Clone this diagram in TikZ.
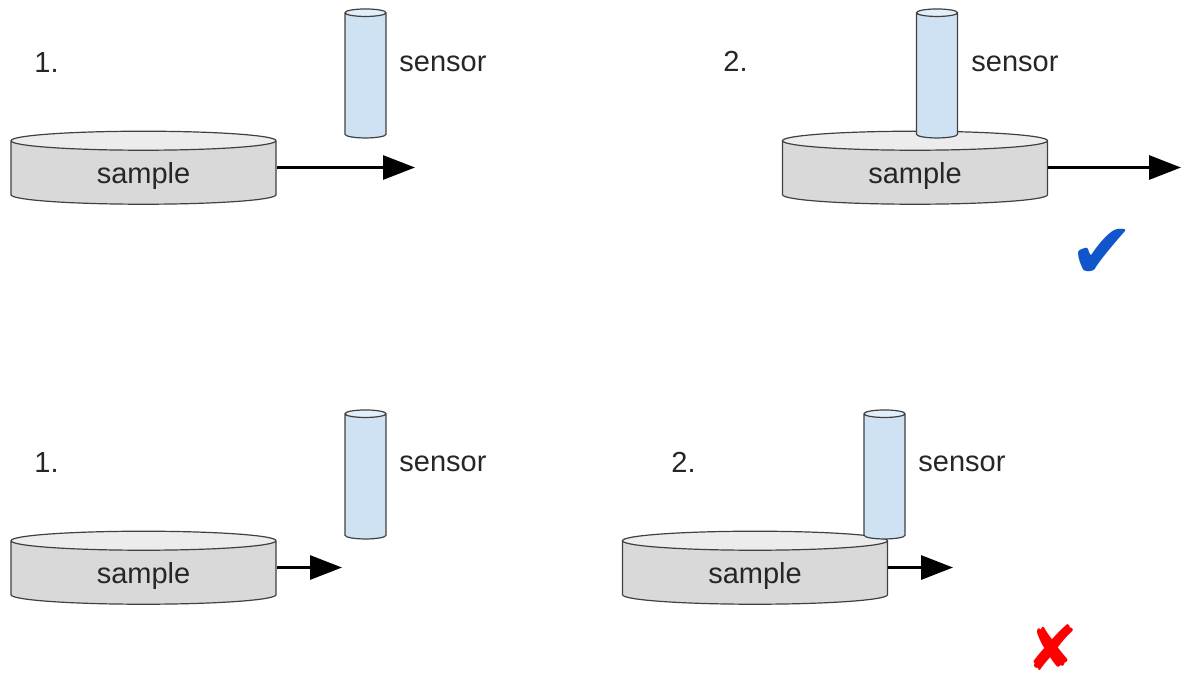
\documentclass[tikz,border=0pt]{standalone}
\usepackage{fontspec}
\setmainfont{Liberation Sans}
\newfontfamily\symfont{DejaVu Sans}
\usetikzlibrary{shapes.geometric,arrows.meta,positioning}
\definecolor{sensorblue}{HTML}{CFE2F3}
\definecolor{samplegray}{HTML}{D9D9D9}
\definecolor{sampletop}{HTML}{ECECEC}
\definecolor{tickblue}{HTML}{1155CC}
\definecolor{crossred}{HTML}{FF0000}

\begin{document}
\begin{tikzpicture}[x=0.5pt,y=-0.5pt]
            \tikzstyle{samplecyl}=[cylinder,shape border rotate=90,draw=black!75,line width=0.6pt,
            cylinder uses custom fill,cylinder body fill=samplegray,cylinder end fill=sampletop,
            minimum width=132.5pt,minimum height=36.5pt,aspect=0.0717,inner xsep=66.25pt,inner ysep=0pt]
            \tikzstyle{sensorcyl}=[cylinder,shape border rotate=90,draw=black!75,line width=0.6pt,
            cylinder uses custom fill,cylinder body fill=sensorblue,cylinder end fill=sensorblue!60!white,
            minimum width=20.5pt,minimum height=64.5pt,aspect=0.183,inner xsep=10.25pt,inner ysep=0pt]
            \tikzstyle{lbl}=[anchor=base west,inner sep=0pt,text=black!85,font=\fontsize{14.5}{17}\selectfont]
            \tikzstyle{move}=[-{Triangle[length=16pt,width=12pt]},line width=1.5pt]

            \useasboundingbox (0,0) rectangle (1181,677);

            % 1. (top)
            \node [samplecyl] (smpA) at (143.5,177.5) {};
            \node [lbl,anchor=base] (nameA) at (143.5,183) {sample};
            \node [sensorcyl] (senA) at (365.5,77.5) {};
            \node [lbl] (numA) at (34,72) {1.};
            \node [lbl] (txtA) at (399,71) {sensor};
            \coordinate (endA) at (415,167.5);
            \draw [move] (smpA.east |- endA) -- (endA);

            % 2. (top)
            \node [samplecyl] (smpB) at (915,177.5) {};
            \node [lbl,anchor=base] (nameB) at (915,183) {sample};
            \node [sensorcyl] (senB) at (937,77.5) {};
            \node [lbl] (numB) at (723,71) {2.};
            \node [lbl] (txtB) at (971,71) {sensor};
            \coordinate (endB) at (1181,167.5);
            \draw [move] (smpB.east |- endB) -- (endB);
            \node [text=tickblue,font=\symfont\fontsize{39}{42}\selectfont,inner sep=0pt] (tick) at (1102,254) {✔};

            % 1. (bottom)
            \node [samplecyl] (smpC) at (143.5,577.5) {};
            \node [lbl,anchor=base] (nameC) at (143.5,583) {sample};
            \node [sensorcyl] (senC) at (365.5,478.5) {};
            \node [lbl] (numC) at (34,472) {1.};
            \node [lbl] (txtC) at (399,471) {sensor};
            \coordinate (endC) at (342,567.5);
            \draw [move] (smpC.east |- endC) -- (endC);

            % 2. (bottom)
            \node [samplecyl] (smpD) at (755,577.5) {};
            \node [lbl,anchor=base] (nameD) at (755,583) {sample};
            \node [sensorcyl] (senD) at (884.5,478.5) {};
            \node [lbl] (numD) at (671,472) {2.};
            \node [lbl] (txtD) at (918,471) {sensor};
            \coordinate (endD) at (953,567.5);
            \draw [move] (smpD.east |- endD) -- (endD);
            \node [text=crossred,font=\symfont\fontsize{31}{34}\selectfont,inner sep=0pt,
            text depth=0pt,anchor=base] (cross) at (1052,670) {✘};
\end{tikzpicture}
\end{document}
